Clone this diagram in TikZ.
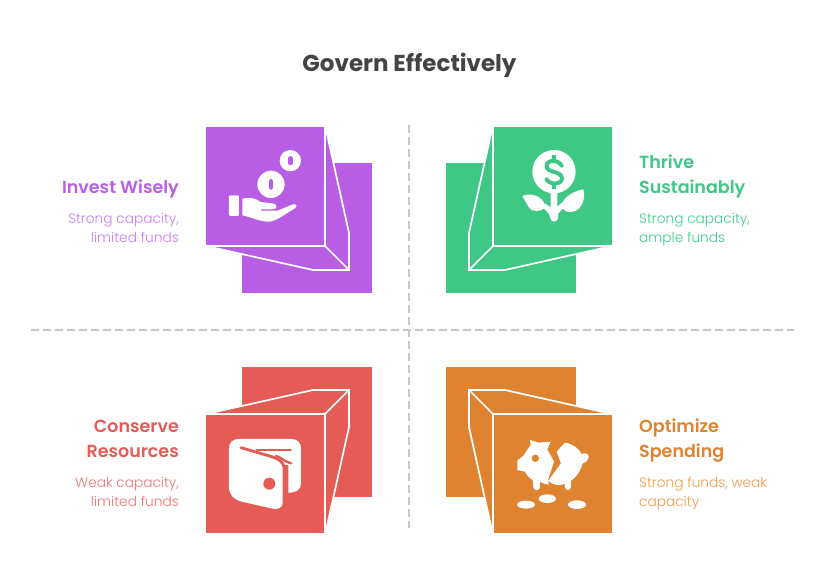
\documentclass[tikz,border=0pt]{standalone}
\usepackage{fontspec}
\setmainfont{Poppins}
\newfontfamily\lightfont{Poppins Light}
\newfontfamily\headfont{Poppins SemiBold}
\definecolor{purplec}{HTML}{B85EE5}
\definecolor{greenc}{HTML}{3EC785}
\definecolor{redc}{HTML}{E55B55}
\definecolor{orangec}{HTML}{DF8330}
\definecolor{purplet}{HTML}{C77DF0}
\definecolor{greent}{HTML}{3ECC88}
\definecolor{redt}{HTML}{EE7470}
\definecolor{oranget}{HTML}{F09A4A}
\definecolor{titlec}{HTML}{434343}
\definecolor{gridc}{HTML}{C8C8C8}
\tikzset{
  head/.style={inner sep=0pt,align=left,font=\fontsize{17.5}{24.5}\headfont},
  subtext/.style={inner sep=0pt,align=left,font=\fontsize{13.7}{18.3}\lightfont},
  edge/.style={draw=white,line width=1.7pt,line join=miter},
  gridline/.style={draw=gridc,line width=1.5pt,dash pattern=on 7.5pt off 4.5pt},
  zoomed/.style={x=0.3333pt,y=-0.3333pt},
}
\begin{document}
\begin{tikzpicture}[x=1pt,y=-1pt]
\useasboundingbox (0,0) rectangle (820,582);
\node[inner sep=0pt,text=titlec,font=\fontsize{23}{28}\selectfont\bfseries] (title) at (409.5,65) {Govern Effectively};
\coordinate (hleft) at (31,330);
\coordinate (hright) at (794,330);
\coordinate (vtop) at (409,125);
\coordinate (vbottom) at (409,528);
\draw[gridline] (hleft) -- (hright);
\draw[gridline] (vtop) -- (vbottom);
% purple
\fill[purplec] (242,163) rectangle (372,293);
\filldraw[fill=purplec,edge] (325,125) -- (349,233) -- (349,270) -- (313,270) -- (206,246) -- (325,246) -- cycle;
\draw[edge] (325,246) -- (349,270);
\fill[purplec] (206,127) rectangle (324,245);
\begin{scope}[shift={(190,110)},zoomed]
\fill[white] (243,223) circle[radius=41];
\fill[white] (301,152) circle[radius=32];
\draw[purplec,line width=4.6pt,line cap=round] (243,214) -- (243,232);
\draw[purplec,line width=4.4pt,line cap=round] (301,145) -- (301,159);
\fill[white,rounded corners=1pt] (117,256) rectangle (147,318);
\fill[white] (157,266) .. controls (175,262) and (195,262) .. (212,276) -- (248,280) .. controls (262,282) and (264,296) .. (250,298) -- (213,298) -- (213,302) -- (262,302) .. controls (280,296) and (300,285) .. (314,282) .. controls (322,282) and (322,292) .. (315,295) .. controls (290,308) and (260,335) .. (235,335) .. controls (210,335) and (180,320) .. (157,316) -- cycle;
\end{scope}
% green
\fill[greenc] (446,163) rectangle (576,293);
\filldraw[fill=greenc,edge] (493,125) -- (469,233) -- (469,270) -- (505,270) -- (612,246) -- (493,246) -- cycle;
\draw[edge] (493,246) -- (469,270);
\fill[greenc] (494,127) rectangle (612,245);
\begin{scope}[shift={(430,110)},zoomed]
\fill[white] (372,185) circle[radius=65];
\draw[greenc,line width=4pt,line cap=round] (395,167) .. controls (385,148) and (350,148) .. (350,168) .. controls (350,190) and (396,182) .. (396,205) .. controls (396,225) and (358,225) .. (350,208);
\draw[greenc,line width=4pt] (372,135) -- (372,150);
\draw[greenc,line width=4pt] (372,220) -- (372,236);
\fill[white] (362,245) -- (382,245) -- (382,290) -- (405,270) -- (410,285) -- (385,310) -- (384,325) .. controls (382,338) and (362,338) .. (361,325) .. controls (361,312) and (345,298) .. (335,290) -- (345,280) -- (362,292) -- cycle;
\fill[white] (277,258) .. controls (300,248) and (335,255) .. (345,285) .. controls (350,300) and (320,308) .. (305,300) .. controls (295,295) and (285,270) .. (277,258) -- cycle;
\fill[white] (460,238) .. controls (468,265) and (455,300) .. (430,305) .. controls (410,310) and (392,300) .. (397,280) .. controls (402,260) and (435,242) .. (460,238) -- cycle;
\end{scope}
% red
\fill[redc] (242,367) rectangle (372,497);
\filldraw[fill=redc,edge] (325,535) -- (349,427) -- (349,390) -- (313,390) -- (206,414) -- (325,414) -- cycle;
\draw[edge] (325,414) -- (349,390);
\fill[redc] (206,415) rectangle (324,533);
\begin{scope}[shift={(190,350)},zoomed]
\fill[white] (145,267) -- (305,267) .. controls (322,267) and (333,278) .. (333,295) -- (333,400) .. controls (333,420) and (318,428) .. (295,428) -- (295,345) -- (278,345) -- (278,458) .. controls (278,472) and (265,480) .. (248,476) -- (155,455) .. controls (130,448) and (117,435) .. (117,410) -- (117,295) .. controls (117,278) and (128,267) .. (145,267) -- cycle;
\draw[redc,line width=2.8pt,line cap=round] (153,293) -- (245,320) .. controls (265,326) and (278,335) .. (282,350);
\draw[redc,line width=2pt,line cap=round] (200,300) -- (303,300);
\draw[redc,line width=2.4pt,line cap=round] (258,318) .. controls (275,322) and (282,335) .. (303,340);
\fill[redc] (238,401) circle[radius=18];
\end{scope}
% orange
\fill[orangec] (446,367) rectangle (576,497);
\filldraw[fill=orangec,edge] (493,535) -- (469,427) -- (469,390) -- (505,390) -- (612,414) -- (493,414) -- cycle;
\draw[edge] (493,414) -- (469,390);
\fill[orangec] (494,415) rectangle (612,533);
\begin{scope}[shift={(430,350)},zoomed]
\fill[white] (300,270) -- (325,278) -- (362,275) -- (352,298) -- (372,335) -- (355,387) -- (356,404) .. controls (345,402) and (338,400) .. (330,395) -- (330,412) .. controls (328,423) and (312,423) .. (310,412) -- (308,390) .. controls (298,385) and (290,375) .. (285,365) -- (262,360) -- (262,332) -- (282,315) .. controls (288,305) and (295,295) .. (302,285) -- cycle;
\fill[orangec] (316,325) circle[radius=11];
\fill[white] (405,278) .. controls (420,280) and (425,284) .. (435,290) .. controls (445,296) and (450,304) .. (455,312) .. controls (462,308) and (477,310) .. (476,320) .. controls (476,332) and (465,338) .. (458,340) .. controls (455,355) and (440,382) .. (423,392) -- (423,412) .. controls (420,423) and (408,423) .. (405,412) -- (405,402) .. controls (385,408) and (368,406) .. (355,392) -- (393,340) -- (380,305) -- cycle;
\fill[white] (288,464) ellipse[x radius=27,y radius=12];
\fill[white] (352,446) ellipse[x radius=26,y radius=13];
\fill[white] (441,464) ellipse[x radius=27,y radius=13];
\end{scope}
% labels
\node[head,align=right,text=purplec,anchor=base east] (investhead) at (179,193) {Invest Wisely};
\node[subtext,align=right,text=purplet,anchor=base east] (investtext) at (179,242) {Strong capacity,\\limited funds};
\node[head,text=greenc,anchor=base west] (thrivehead) at (639,193) {Thrive\\Sustainably};
\node[subtext,text=greent,anchor=base west] (thrivetext) at (639,242) {Strong capacity,\\ample funds};
\node[head,align=right,text=redc,anchor=base east] (conservehead) at (179,457) {Conserve\\Resources};
\node[subtext,align=right,text=redt,anchor=base east] (conservetext) at (179,506) {Weak capacity,\\limited funds};
\node[head,text=orangec,anchor=base west] (optimizehead) at (639,457) {Optimize\\Spending};
\node[subtext,text=oranget,anchor=base west] (optimizetext) at (639,506) {Strong funds, weak\\capacity};
\end{tikzpicture}
\end{document}
